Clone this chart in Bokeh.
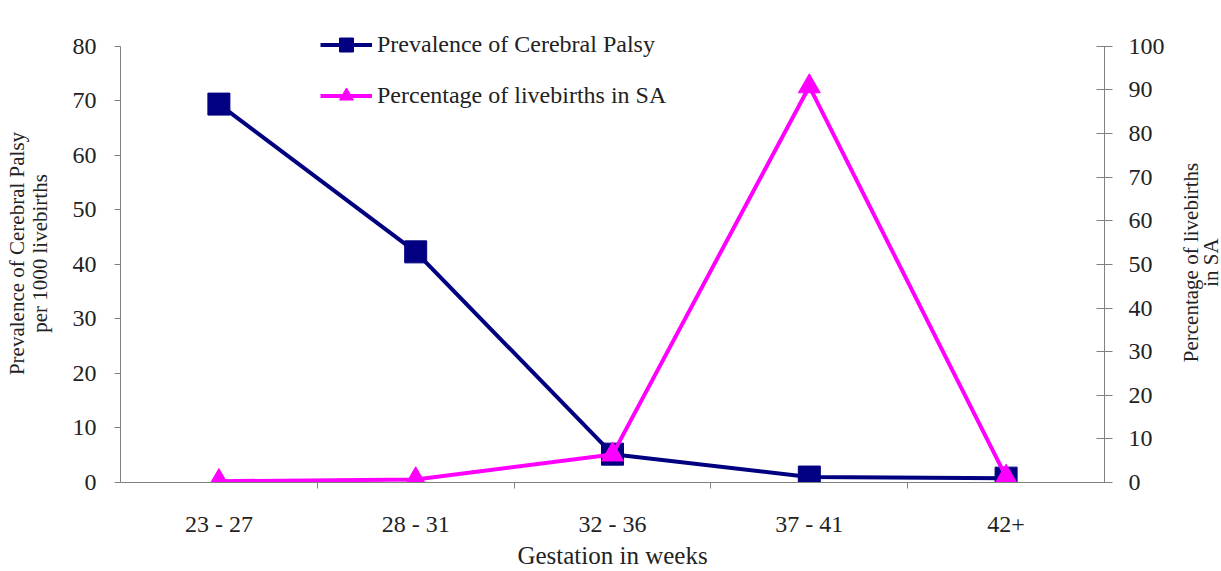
import math
from bokeh.plotting import figure
from bokeh.layouts import row
from bokeh.models import (Range1d, LinearAxis, FixedTicker, SingleIntervalTicker,
                          Legend, LegendItem, Label, ColumnDataSource)
from bokeh.embed import file_html
from bokeh.resources import INLINE

# ---- data ----
categories = ["23 - 27", "28 - 31", "32 - 36", "37 - 41", "42+"]
prevalence = [69.4, 42.3, 5.2, 1.0, 0.8]          # per 1000 livebirths (left axis)
pct_livebirths = [0.3, 0.7, 6.4, 90.8, 1.3]       # % of livebirths in SA (right axis)
left_range = (0, 80)
right_range = (0, 100)
tick_step = 10
series_names = ["Prevalence of Cerebral Palsy", "Percentage of livebirths in SA"]
left_title = "Prevalence of Cerebral Palsy\nper 1000 livebirths"
right_title = ["Percentage of livebirths", "in SA"]
x_title = "Gestation in weeks"

FONT = "Liberation Serif"
AXIS_GRAY = "#808080"
TEXT = "#222222"
BLUE = "#000080"
MAGENTA = "#FF00FF"

n = len(categories)
# each category occupies one unit slot; its point sits in the slot centre
cat_pos = [i + 0.5 for i in range(n)]
# head-room above the axes' top (axis lines stop at the top value via bounds)
HEAD = 1.05

W, H = 1221, 571
W_MAIN = 1180          # main chart; a narrow strip on the right holds the right-axis title

p = figure(width=W_MAIN, height=H,
           x_range=Range1d(0, n), y_range=Range1d(left_range[0], left_range[1] * HEAD),
           x_axis_location=None, y_axis_location="left",
           output_backend="svg", toolbar_location=None,
           min_border_left=120, min_border_right=W_MAIN - 1104, min_border_top=24,
           min_border_bottom=H - 486)
p.outline_line_color = None
p.grid.visible = False
p.background_fill_color = "white"
p.border_fill_color = "white"

p.extra_y_ranges = {"pct": Range1d(right_range[0], right_range[1] * HEAD)}

# left axis
ly = p.yaxis[0]
ly.bounds = left_range
ly.ticker = SingleIntervalTicker(interval=tick_step)
ly.axis_line_color = AXIS_GRAY
ly.major_tick_line_color = AXIS_GRAY
ly.major_tick_out = 6
ly.major_tick_in = 0
ly.minor_tick_line_color = None
ly.major_label_standoff = 18
ly.major_label_text_font = FONT
ly.major_label_text_font_size = "24px"
ly.major_label_text_color = TEXT
ly.axis_label = left_title
ly.axis_label_text_font = FONT
ly.axis_label_text_font_size = "21px"
ly.axis_label_text_font_style = "normal"
ly.axis_label_text_color = TEXT
ly.axis_label_text_line_height = 0.95
ly.axis_label_standoff = 18

# right axis
ry = LinearAxis(y_range_name="pct", ticker=SingleIntervalTicker(interval=tick_step))
ry.bounds = right_range
ry.axis_line_color = AXIS_GRAY
ry.major_tick_line_color = AXIS_GRAY
ry.major_tick_out = 8
ry.major_tick_in = 8
ry.minor_tick_line_color = None
ry.major_label_standoff = 16
ry.major_label_text_font = FONT
ry.major_label_text_font_size = "24px"
ry.major_label_text_color = TEXT
p.add_layout(ry, "right")

# bottom axis: labels at category centres, ticks at category boundaries
xa = LinearAxis(ticker=FixedTicker(ticks=cat_pos, minor_ticks=list(range(1, n))),
                major_label_overrides={pos: c for pos, c in zip(cat_pos, categories)})
xa.axis_line_color = AXIS_GRAY
xa.major_tick_line_color = None
xa.major_tick_out = 0
xa.major_tick_in = 0
xa.minor_tick_line_color = AXIS_GRAY
xa.minor_tick_out = 6
xa.minor_tick_in = 0
xa.major_label_standoff = 22
xa.major_label_text_font = FONT
xa.major_label_text_font_size = "24px"
xa.major_label_text_color = TEXT
xa.axis_label = x_title
xa.axis_label_text_font = FONT
xa.axis_label_text_font_size = "25px"
xa.axis_label_text_font_style = "normal"
xa.axis_label_text_color = TEXT
xa.axis_label_standoff = 2
p.add_layout(xa, "below")

src = ColumnDataSource(dict(x=cat_pos, cat=categories, prev=prevalence, pct=pct_livebirths))

l1 = p.line("x", "prev", source=src, line_color=BLUE, line_width=4)
s1 = p.scatter("x", "prev", source=src, marker="square", size=22,
               fill_color=BLUE, line_color=BLUE)
l2 = p.line("x", "pct", source=src, y_range_name="pct", line_color=MAGENTA, line_width=4)
s2 = p.scatter("x", "pct", source=src, y_range_name="pct", marker="triangle", size=22,
               fill_color=MAGENTA, line_color=MAGENTA)

legend = Legend(items=[LegendItem(label=series_names[0], renderers=[l1, s1]),
                       LegendItem(label=series_names[1], renderers=[l2, s2])],
                location=(200, 369), orientation="vertical",
                glyph_width=52, glyph_height=35, spacing=16, label_standoff=5,
                padding=0, margin=0,
                label_text_font=FONT, label_text_font_size="24px", label_text_color=TEXT,
                background_fill_alpha=0, border_line_color=None)
p.add_layout(legend, "center")

# narrow strip holding the right-axis title (reads bottom-to-top, centred)
t = figure(width=W - W_MAIN, height=H, x_range=Range1d(0, 1), y_range=Range1d(0, 1),
           x_axis_location=None, y_axis_location=None,
           output_backend="svg", toolbar_location=None, min_border=0)
t.outline_line_color = None
t.grid.visible = False
t.background_fill_color = "white"
t.border_fill_color = "white"
FRAME_BOTTOM = 483     # the strip's frame is aligned with the main chart's frame
for txt, xx in zip(right_title, [10, 30]):
    t.add_layout(Label(x=xx, y=FRAME_BOTTOM - 263, x_units="screen", y_units="screen", text=txt,
                       angle=math.pi / 2, text_align="center", text_baseline="middle",
                       text_font=FONT, text_font_size="21px", text_color=TEXT))

layout = row(p, t, spacing=0)
open("out.html", "w").write(file_html(layout, INLINE))
